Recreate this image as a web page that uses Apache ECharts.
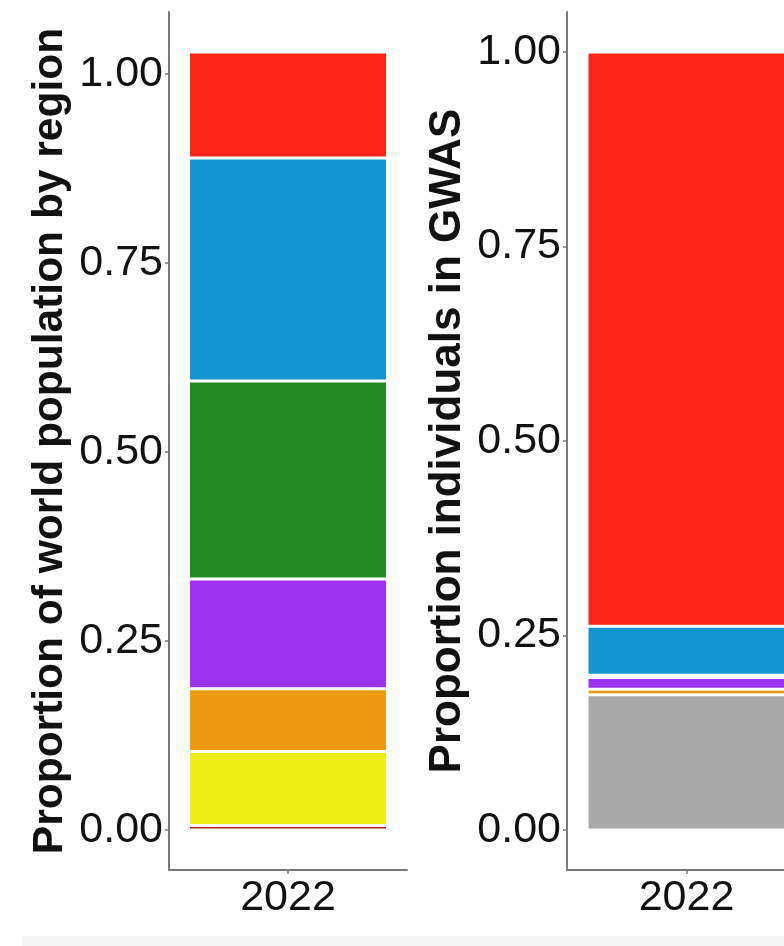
<!DOCTYPE html>
<html>
<head>
<meta charset="utf-8">
<script src="https://cdn.jsdelivr.net/npm/echarts@6/dist/echarts.min.js"></script>
<style>
  html, body { margin: 0; padding: 0; background: #fff; }
  #chart { width: 784px; height: 946px; }
</style>
</head>
<body>
<div id="chart"></div>
<script>
// stacked from the bottom up
const regions = ['Other/multiple', 'Oceanian', 'Middle Eastern', 'Hispanic/Latin American', 'African', 'South Asian', 'East Asian', 'European'];
const colors = ['#a9a9a9', '#b22222', '#eeee14', '#ed9a10', '#9d33f0', '#228b22', '#1396cc', '#fc2616'];
const worldShare = [0, 0.006, 0.098, 0.083, 0.145, 0.262, 0.295, 0.140];
const gwasShare = [0.174, 0, 0, 0.007, 0.015, 0.003, 0.063, 0.738];
const years = ['2022'];
const tickValues = [0, 0.25, 0.5, 0.75, 1];

const chart = echarts.init(document.getElementById('chart'));

const axisLine = { show: true, onZero: false, lineStyle: { color: '#7a7a7a', width: 2 } };
const axisTick = { show: true, length: 4, lineStyle: { color: '#7a7a7a', width: 1.5 } };
const labelFont = { color: '#111', fontSize: 43, fontFamily: 'Liberation Sans' };

function yAxis(idx, min, max, title, titleSize) {
  return {
    type: 'value',
    gridIndex: idx,
    min: min,
    max: max,
    axisLine: axisLine,
    axisTick: Object.assign({ customValues: tickValues }, axisTick),
    axisLabel: Object.assign({
      customValues: tickValues,
      margin: 6,
      formatter: (v) => v.toFixed(2),
    }, labelFont),
    splitLine: { show: false },
    name: title,
    nameLocation: 'middle',
    nameGap: 97,
    nameTextStyle: { color: '#111', fontSize: titleSize, fontWeight: 'bold', fontFamily: 'Liberation Sans', padding: [0, 0, 0, 0] },
  };
}

function xAxis(idx) {
  return {
    type: 'category',
    gridIndex: idx,
    data: years,
    axisLine: axisLine,
    axisTick: Object.assign({ alignWithLabel: true }, axisTick),
    axisLabel: Object.assign({ margin: 7 }, labelFont),
  };
}

function stackSeries(values, idx, stack) {
  return regions.map((name, i) => ({
    name: name,
    type: 'bar',
    stack: stack,
    xAxisIndex: idx,
    yAxisIndex: idx,
    barWidth: 199,
    data: [values[i] > 0 ? values[i] : null],
    itemStyle: { color: colors[i], borderColor: '#fff', borderWidth: 1.5 },
  }));
}

const option = {
  animation: false,
  backgroundColor: '#fff',
  grid: [
    { left: 169, top: 12, width: 238, height: 858, outerBoundsMode: 'none' },
    { left: 567, top: 12, width: 239, height: 858, outerBoundsMode: 'none' },
  ],
  xAxis: [xAxis(0), xAxis(1)],
  yAxis: [
    yAxis(0, -0.0529, 1.082, 'Proportion of world population by region', 42.5),
    yAxis(1, -0.0514, 1.0514, 'Proportion individuals in GWAS', 44),
  ],
  series: stackSeries(worldShare, 0, 'world').concat(stackSeries(gwasShare, 1, 'gwas')),
  graphic: [
    { type: 'rect', shape: { x: 22, y: 936, width: 762, height: 10 }, style: { fill: '#f5f5f5' } },
  ],
};

chart.setOption(option);
</script>
</body>
</html>
